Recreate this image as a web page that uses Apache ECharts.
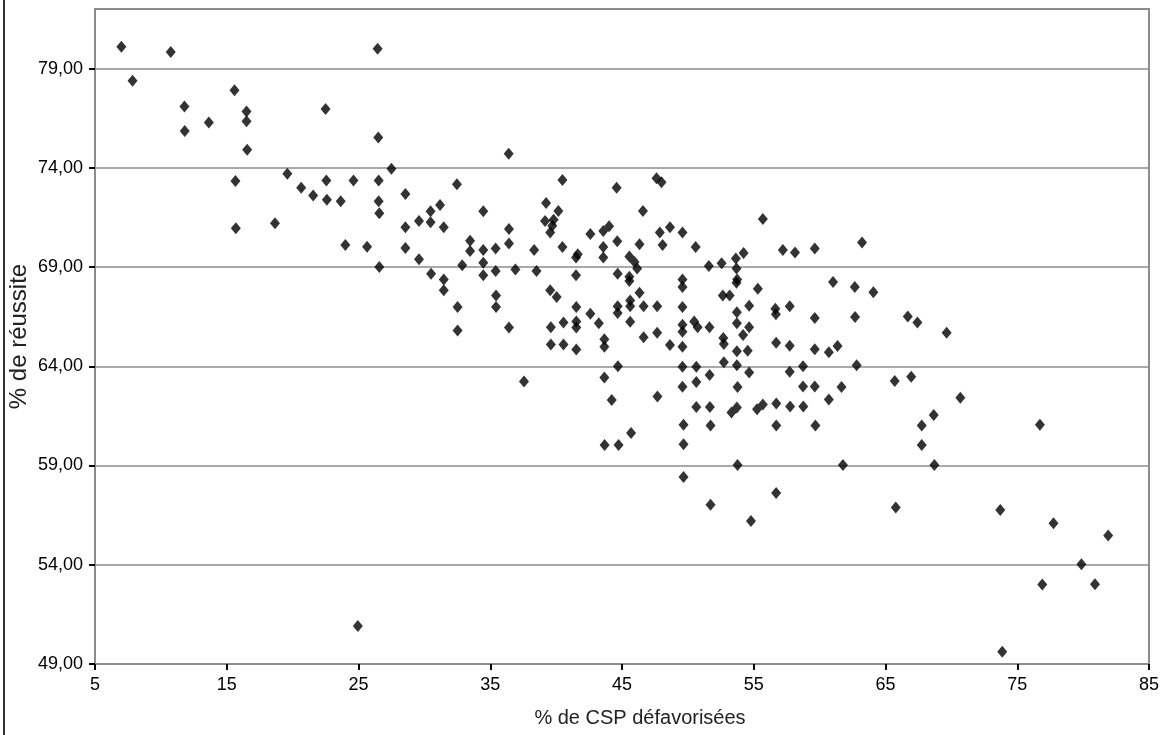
<!DOCTYPE html>
<html>
<head>
<meta charset="utf-8">
<script src="https://cdn.jsdelivr.net/npm/echarts@6/dist/echarts.min.js"></script>
<style>
  body { margin: 0; background: #fff; }
  #chart { width: 1165px; height: 735px; }
</style>
</head>
<body>
<div id="chart"></div>
<script>
// % de CSP défavorisées (x) et % de réussite (y), point par point
var pctCsp = [
  7.0, 10.75, 26.45, 7.85, 15.59, 11.79, 22.5, 16.5, 13.64, 16.5, 11.81, 26.5, 16.55, 27.5, 19.6, 15.66,
  20.65, 21.56, 22.56, 24.62, 26.53, 22.6, 23.65, 26.53, 26.58, 15.69, 18.66, 24.0, 25.65, 26.58, 24.95,
  36.4, 28.56, 32.47, 40.48, 44.59, 47.62, 48.0, 31.19, 30.47, 29.59, 30.47, 31.47, 28.56, 34.47, 39.24,
  40.17, 39.16, 39.81, 39.71, 39.55, 36.42, 36.42, 33.47, 33.47, 34.47, 35.41, 28.56, 29.59, 32.87, 34.47,
  34.47, 35.41, 36.91, 38.51, 38.33, 40.48, 42.6, 43.58, 44.02, 44.64, 43.58, 43.58, 41.51, 41.64, 41.51,
  44.67, 45.56, 45.95, 46.15, 45.56, 45.56, 46.33, 46.59, 47.87, 48.08, 48.64, 49.59, 50.59, 51.59, 52.56,
  53.64, 54.23, 53.69, 53.74, 53.69, 55.31, 55.69, 49.59, 49.59, 30.51, 31.47, 31.47, 32.52, 32.52, 35.44,
  35.44, 36.42, 37.56, 39.55, 40.04, 41.53, 39.6, 39.6, 40.56, 40.56, 41.53, 41.53, 41.53, 42.6, 43.24,
  43.66, 43.66, 43.66, 44.67, 44.67, 44.69, 44.22, 45.62, 45.62, 45.62, 46.33, 46.64, 46.64, 47.67, 47.67,
  47.69, 48.64, 49.59, 49.59, 49.59, 50.48, 50.74, 51.64, 49.59, 49.59, 49.59, 50.64, 50.64, 51.65, 52.65,
  53.17, 52.69, 52.73, 52.73, 53.72, 53.72, 54.19, 54.65, 54.65, 53.72, 54.54, 53.72, 54.65, 53.77, 56.64,
  56.68, 56.7,
  50.64, 51.67, 53.31, 53.72, 55.25, 55.69, 56.71, 49.67, 51.72, 56.71, 49.67, 43.68, 44.74, 45.69, 53.77,
  49.67, 56.7, 51.72, 54.79,
  57.21, 58.13, 59.63, 63.22, 57.73, 61.02, 62.67, 64.08, 59.63, 62.69, 66.69, 67.42, 69.64, 57.73, 59.63,
  60.7, 61.36, 57.73, 58.74, 58.74, 59.63, 61.66, 62.81, 65.7, 66.95, 60.7, 70.68, 57.76, 58.76, 59.68,
  68.66, 67.75, 76.72, 67.75, 61.77, 68.71,
  65.78, 73.71, 77.75, 81.9, 79.87, 76.9, 80.9, 73.86
];
var pctReussite = [
  80.1, 79.83, 80.0, 78.38, 77.91, 77.09, 76.96, 76.83, 76.28, 76.35, 75.85, 75.52, 74.91, 73.95, 73.7, 73.34,
  73.0, 72.6, 73.36, 73.36, 73.36, 72.39, 72.31, 72.31, 71.71, 70.96, 71.21, 70.11, 70.02, 69.0, 50.92,
  74.71, 72.68, 73.17, 73.38, 73.0, 73.47, 73.27, 72.13, 71.81, 71.32, 71.25, 71.0, 71.0, 71.81, 72.23,
  71.82, 71.32, 71.38, 71.08, 70.74, 70.91, 70.19, 70.32, 69.81, 69.86, 69.93, 69.96, 69.39, 69.09, 69.22,
  68.58, 68.8, 68.88, 68.8, 69.86, 70.01, 70.66, 70.82, 71.05, 70.3, 70.01, 69.48, 69.48, 69.64, 68.59,
  68.66, 69.53, 69.25, 68.93, 68.51, 68.29, 70.15, 71.82, 70.74, 70.11, 71.01, 70.74, 70.01, 69.05, 69.19,
  69.43, 69.71, 68.92, 68.37, 68.21, 67.9, 71.42, 68.37, 68.0, 68.66, 68.37, 67.83, 66.99, 65.8, 67.56,
  66.99, 65.95, 63.23, 67.83, 67.49, 66.99, 65.97, 65.1, 66.2, 65.1, 66.25, 65.95, 64.85, 66.64, 66.17,
  65.36, 64.98, 63.44, 67.02, 66.68, 64.0, 62.3, 67.32, 67.02, 66.24, 67.7, 67.02, 65.46, 67.02, 65.69,
  62.48, 65.07, 66.99, 66.09, 65.74, 66.25, 65.97, 65.97, 64.98, 63.97, 62.97, 63.97, 63.21, 63.56, 67.56,
  67.56, 65.42, 65.12, 64.2, 66.72, 66.17, 65.58, 67.05, 65.97, 64.76, 64.78, 64.05, 63.68, 62.95, 66.9,
  66.62, 65.19,
  61.95, 61.95, 61.67, 61.92, 61.84, 62.08, 62.13, 61.06, 61.02, 61.02, 60.07, 60.03, 60.03, 60.64, 59.02,
  58.42, 57.62, 57.02, 56.2,
  69.86, 69.73, 69.93, 70.24, 67.02, 68.24, 68.0, 67.73, 66.43, 66.48, 66.51, 66.2, 65.69, 65.03, 64.86,
  64.71, 65.02, 63.72, 64.0, 62.98, 62.98, 62.95, 64.05, 63.26, 63.47, 62.33, 62.41, 61.97, 61.97, 61.02,
  61.54, 61.02, 61.05, 60.03, 59.02, 59.02,
  56.88, 56.76, 56.09, 55.48, 54.02, 53.0, 53.02, 49.62
];
var xTicks = [5, 15, 25, 35, 45, 55, 65, 75, 85];
var yTicks = [49, 54, 59, 64, 69, 74, 79];

var points = pctCsp.map(function (x, i) { return [x, pctReussite[i]] });

var labelFont = "'Liberation Sans', Arial, sans-serif";
var titleFont = "'Liberation Sans', Arial, sans-serif";

var chart = echarts.init(document.getElementById('chart'));
chart.setOption({
  backgroundColor: '#fff',
  animation: false,
  grid: {
    left: 95,
    right: 16,
    top: 9,
    bottom: 71,
    outerBoundsMode: 'none',
    containLabel: false,
    show: true,
    borderColor: '#8c8c8c',
    borderWidth: 2
  },
  xAxis: {
    type: 'value',
    min: xTicks[0],
    max: xTicks[xTicks.length - 1],
    interval: 10,
    name: '% de CSP défavorisées',
    nameLocation: 'middle',
    nameGap: 44,
    nameMoveOverlap: false,
    nameTextStyle: { fontFamily: titleFont, fontSize: 20, color: '#222', padding: [0, 0, 0, 36] },
    axisLine: { lineStyle: { color: '#8c8c8c', width: 2 } },
    axisTick: { show: true, length: 6, lineStyle: { color: '#000', width: 2 } },
    axisLabel: { fontFamily: labelFont, fontSize: 18, color: '#000', margin: 12 },
    splitLine: { show: false }
  },
  yAxis: {
    type: 'value',
    min: yTicks[0],
    max: 82,
    interval: 5,
    name: '% de réussite',
    nameLocation: 'middle',
    nameGap: 64,
    nameRotate: 90,
    nameMoveOverlap: false,
    nameTextStyle: { fontFamily: titleFont, fontSize: 24, color: '#222' },
    axisLine: { show: true, lineStyle: { color: '#8c8c8c', width: 2 } },
    axisTick: { show: true, length: 6, lineStyle: { color: '#000', width: 2 } },
    axisLabel: {
      fontFamily: labelFont, fontSize: 18, color: '#000', margin: 12, showMaxLabel: false,
      formatter: function (v) { return v.toFixed(2).replace('.', ',') }
    },
    splitLine: { show: true, lineStyle: { color: '#8c8c8c', width: 1.5 } }
  },
  graphic: [
    { type: 'line', shape: { x1: 4, y1: 0, x2: 4, y2: 735 }, style: { stroke: '#333', lineWidth: 2 } }
  ],
  series: [
    {
      type: 'scatter',
      symbol: 'diamond',
      symbolSize: [10, 12],
      itemStyle: { color: '#000' },
      data: points
    }
  ]
});
</script>
</body>
</html>
